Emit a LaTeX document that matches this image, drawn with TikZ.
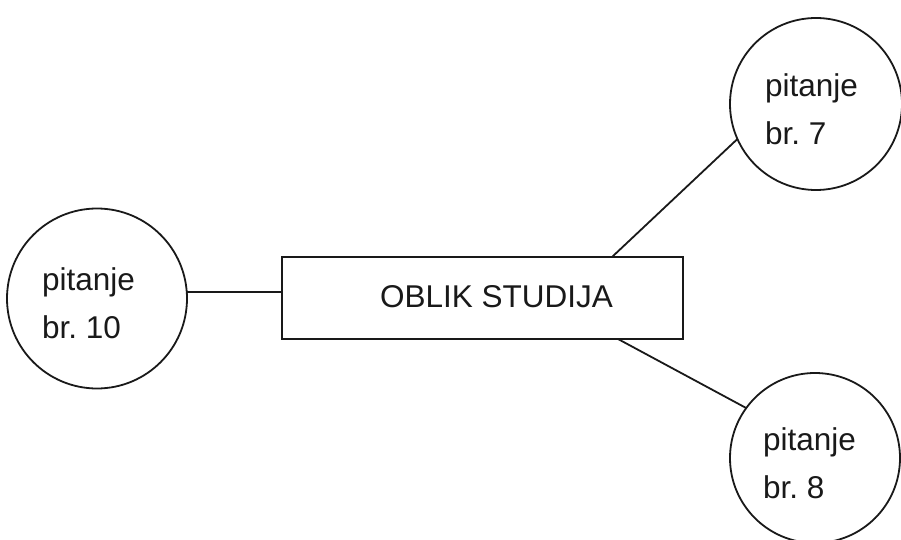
\documentclass[tikz,border=0pt]{standalone}
\usepackage{fontspec}
\setmainfont{Liberation Sans}
\begin{document}
\begin{tikzpicture}[x=1pt,y=-1pt,
  ln/.style={line width=1.8pt,draw=black!90},
  qcirc/.style={circle,ln,inner sep=0pt,outer sep=0pt},
  txt/.style={anchor=base west,inner sep=0pt,outer sep=0pt,font=\fontsize{31.5}{48}\selectfont,text=black!90}]
\useasboundingbox (0,0) rectangle (901,540);
% circles
\node[qcirc,minimum size=180pt] (c10) at (97,298.5) {};
\node[qcirc,minimum size=172pt] (c7) at (816,104) {};
\node[qcirc,minimum size=170pt] (c8) at (815,458) {};
% box
\node[ln,rectangle,minimum width=401pt,minimum height=82pt,inner sep=0pt,outer sep=0pt] (box) at (482.5,298) {};
\node[txt] (boxt) at (380,307) {OBLIK STUDIJA};
% circle texts
\node[txt] (p10) at (42,290) {pitanje};
\node[txt] (b10) at (42,338) {br.~10};
\node[txt] (p7) at (765,97) {pitanje};
\node[txt] (b7) at (765,145) {br.~7};
\node[txt] (p8) at (763,450) {pitanje};
\node[txt] (b8) at (763,498) {br.~8};
% connectors
\coordinate (jl) at (0,292);
\draw[ln] (c10.east |- jl) -- (box.west |- jl);
\draw[ln] ([xshift=129.5pt]box.north) -- (c7.204);
\draw[ln] ([xshift=135.5pt]box.south) -- (c8.144);
\end{tikzpicture}
\end{document}
